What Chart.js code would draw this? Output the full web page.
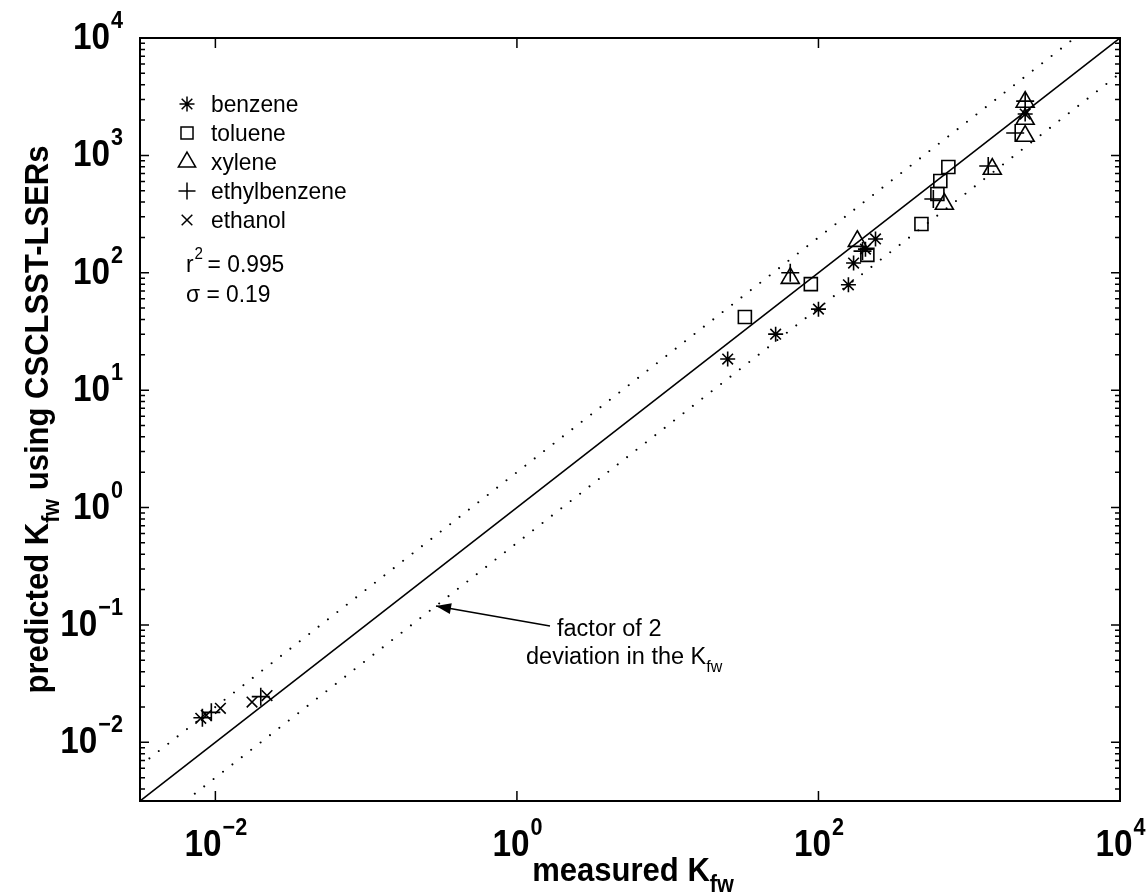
<!DOCTYPE html>
<html>
<head>
<meta charset="utf-8">
<script src="https://cdn.jsdelivr.net/npm/chart.js@4.4.0/dist/chart.umd.min.js"></script>
<style>
html, body { margin: 0; padding: 0; background: #fff; }
</style>
</head>
<body>
<canvas id="myChart" width="1147" height="896"></canvas>
<script>
// values (measured Kfw, predicted Kfw)
const benzeneX = [25, 52, 100, 158, 171, 205, 239, 2350];
const benzeneY = [18.4, 30, 49, 79, 121, 159, 194, 2250];
const tolueneX = [32.5, 89, 211, 482, 615, 643, 727];
const tolueneY = [42, 80, 142, 260, 469, 605, 796];
const xyleneX = [65, 181, 684, 1422, 2350, 2350, 2350];
const xyleneY = [90, 186, 385, 765, 2850, 2040, 1460];
const ethylbenzeneX = [65, 196, 578, 1337, 2018, 2350, 0.0082, 0.0094, 0.020];
const ethylbenzeneY = [100, 153, 425, 812, 1552, 2900, 0.0162, 0.018, 0.0245];
const ethanolX = [0.0080, 0.0087, 0.0108, 0.0175, 0.022];
const ethanolY = [0.016, 0.017, 0.0195, 0.022, 0.025];

const xTickExp = [-2, 0, 2, 4];
const yTickExp = [-2, -1, 0, 1, 2, 3, 4];
const axisMin = Math.pow(10, -2.5);
const axisMax = 1e4;

const legendNames = ['benzene', 'toluene', 'xylene', 'ethylbenzene', 'ethanol'];
const legendStyles = ['star', 'rect', 'triangle', 'cross', 'crossRot'];
const legendRadius = [7.5, 8.5, 10, 8.5, 7.5];

const toPoints = (xs, ys) => xs.map((x, i) => ({x: x, y: ys[i]}));

const markerSet = function(data, style, r) {
    return {
        data: data,
        pointStyle: style,
        pointRadius: r,
        pointHoverRadius: r,
        pointBorderColor: '#000',
        pointBackgroundColor: 'rgba(0,0,0,0)',
        pointBorderWidth: 1.6,
        showLine: false
    };
};

const lineSet = function(data, dash) {
    return {
        data: data,
        showLine: true,
        pointRadius: 0,
        borderColor: '#000',
        borderWidth: dash ? 2 : 1.6,
        borderDash: dash || [],
        borderCapStyle: dash ? 'round' : 'butt',
        fill: false
    };
};

// same shapes as Chart.js point styles, for the legend
const drawMarker = function(ctx, style, x, y, r) {
    ctx.beginPath();
    if (style === 'rect') {
        const s = Math.SQRT1_2 * r;
        ctx.rect(x - s, y - s, 2 * s, 2 * s);
    } else if (style === 'triangle') {
        for (let k = 0; k < 3; k++) {
            const a = k * 2 * Math.PI / 3;
            const px = x + Math.sin(a) * r, py = y - Math.cos(a) * r;
            if (k === 0) ctx.moveTo(px, py); else ctx.lineTo(px, py);
        }
        ctx.closePath();
    } else {
        let angles = [];
        if (style === 'cross') angles = [0, Math.PI / 2];
        if (style === 'crossRot') angles = [Math.PI / 4, 3 * Math.PI / 4];
        if (style === 'star') angles = [0, Math.PI / 4, Math.PI / 2, 3 * Math.PI / 4];
        angles.forEach(a => {
            ctx.moveTo(x - Math.cos(a) * r, y - Math.sin(a) * r);
            ctx.lineTo(x + Math.cos(a) * r, y + Math.sin(a) * r);
        });
    }
    ctx.stroke();
};

// text with an optional horizontal squeeze
const drawText = function(ctx, str, x, y, font, sx) {
    ctx.save();
    ctx.font = font;
    ctx.translate(x, y);
    ctx.scale(sx, 1);
    ctx.fillText(str, 0, 0);
    ctx.restore();
};
const textWidth = function(ctx, str, font, sx) {
    ctx.save();
    ctx.font = font;
    const w = ctx.measureText(str).width * sx;
    ctx.restore();
    return w;
};

const FAM = "'Liberation Sans', Arial, Helvetica, sans-serif";
const baseFont = 'bold 37px ' + FAM;
const expFont = 'bold 24px ' + FAM;
const SX = 0.9;

const decoration = {
    id: 'decoration',
    afterDraw(chart) {
        const ctx = chart.ctx;
        const area = chart.chartArea;
        const xs = chart.scales.x, ys = chart.scales.y;
        ctx.save();
        ctx.strokeStyle = '#000';
        ctx.fillStyle = '#000';
        ctx.textAlign = 'left';
        ctx.textBaseline = 'alphabetic';

        // frame
        ctx.lineWidth = 2;
        ctx.strokeRect(area.left, area.top, area.right - area.left, area.bottom - area.top);

        // x ticks (every two decades, no minor ticks)
        ctx.lineWidth = 1.5;
        ctx.beginPath();
        xTickExp.forEach(e => {
            const px = xs.getPixelForValue(Math.pow(10, e));
            ctx.moveTo(px, area.bottom); ctx.lineTo(px, area.bottom - 10);
            ctx.moveTo(px, area.top); ctx.lineTo(px, area.top + 10);
        });
        // y ticks, major and minor
        for (let e = -3; e <= 4; e++) {
            for (let m = 1; m <= 9; m++) {
                const v = m * Math.pow(10, e);
                if (v < axisMin || v > axisMax) continue;
                const py = ys.getPixelForValue(v);
                const len = m === 1 ? 9 : 5;
                ctx.moveTo(area.left, py); ctx.lineTo(area.left + len, py);
                ctx.moveTo(area.right, py); ctx.lineTo(area.right - len, py);
            }
        }
        ctx.stroke();

        // tick labels
        xTickExp.forEach(e => {
            const px = xs.getPixelForValue(Math.pow(10, e));
            const ex = String(e).replace('-', '\u2212');
            const w1 = textWidth(ctx, '10', baseFont, SX);
            const w2 = textWidth(ctx, ex, expFont, SX);
            const x0 = px - (w1 + w2) / 2;
            drawText(ctx, '10', x0, area.bottom + 55, baseFont, SX);
            drawText(ctx, ex, x0 + w1 + 1, area.bottom + 34, expFont, SX);
        });
        yTickExp.forEach(e => {
            const py = ys.getPixelForValue(Math.pow(10, e));
            const ex = String(e).replace('-', '\u2212');
            const w1 = textWidth(ctx, '10', baseFont, SX);
            const w2 = textWidth(ctx, ex, expFont, SX);
            const x0 = area.left - 18 - w1 - w2;
            drawText(ctx, '10', x0, py + 11, baseFont, SX);
            drawText(ctx, ex, x0 + w1 + 1, py - 10, expFont, SX);
        });

        // axis titles
        const titleFont = 'bold 33px ' + FAM;
        const subFont = 'bold 23px ' + FAM;
        const TSX = 0.94;
        const tw1 = textWidth(ctx, 'measured K', titleFont, TSX);
        const tw2 = textWidth(ctx, 'fw', subFont, TSX);
        const tx0 = (area.left + area.right) / 2 + 3 - (tw1 + tw2) / 2;
        drawText(ctx, 'measured K', tx0, 881, titleFont, TSX);
        drawText(ctx, 'fw', tx0 + tw1, 892, subFont, TSX);

        ctx.save();
        ctx.translate(48, (area.top + area.bottom) / 2);
        ctx.rotate(-Math.PI / 2);
        const p1 = 'predicted K', p2 = 'fw', p3 = ' using CSCLSST-LSERs';
        const w1 = textWidth(ctx, p1, titleFont, TSX);
        const w2 = textWidth(ctx, p2, subFont, TSX);
        const w3 = textWidth(ctx, p3, titleFont, TSX);
        let cx = -(w1 + w2 + w3) / 2;
        drawText(ctx, p1, cx, 0, titleFont, TSX);
        drawText(ctx, p2, cx + w1, 11, subFont, TSX);
        drawText(ctx, p3, cx + w1 + w2, 0, titleFont, TSX);
        ctx.restore();

        // legend
        const legFont = '24px ' + FAM;
        ctx.lineWidth = 1.5;
        legendNames.forEach((name, i) => {
            const y = 104 + i * 29;
            drawMarker(ctx, legendStyles[i], 187, y, legendRadius[i]);
            drawText(ctx, name, 211, y + 8, legFont, 0.95);
        });

        // fit statistics
        const rw = textWidth(ctx, 'r', legFont, 0.95);
        drawText(ctx, 'r', 186, 272, legFont, 0.95);
        drawText(ctx, '2', 186 + rw + 1, 259, '16px ' + FAM, 0.95);
        drawText(ctx, '= 0.995', 186 + rw + 14, 272, legFont, 0.95);
        drawText(ctx, '\u03c3 = 0.19', 186, 302, legFont, 0.95);

        // annotation with arrow
        const annFont = '23.5px ' + FAM;
        drawText(ctx, 'factor of 2', 557, 636, annFont, 1);
        drawText(ctx, 'deviation in the K', 526, 664, annFont, 1);
        const dw = textWidth(ctx, 'deviation in the K', annFont, 1);
        drawText(ctx, 'fw', 526 + dw, 672, '16px ' + FAM, 1);
        const tipX = 436, tipY = 606, tailX = 550, tailY = 626;
        ctx.lineWidth = 1.5;
        ctx.beginPath();
        ctx.moveTo(tailX, tailY); ctx.lineTo(tipX, tipY);
        ctx.stroke();
        const ang = Math.atan2(tipY - tailY, tipX - tailX);
        ctx.beginPath();
        ctx.moveTo(tipX, tipY);
        ctx.lineTo(tipX - 16 * Math.cos(ang - 0.35), tipY - 16 * Math.sin(ang - 0.35));
        ctx.lineTo(tipX - 16 * Math.cos(ang + 0.35), tipY - 16 * Math.sin(ang + 0.35));
        ctx.closePath();
        ctx.fill();

        ctx.restore();
    }
};

const ctx = document.getElementById('myChart').getContext('2d');
const myChart = new Chart(ctx, {
    type: 'scatter',
    data: {
        datasets: [
            markerSet(toPoints(benzeneX, benzeneY), 'star', 7.5),
            markerSet(toPoints(tolueneX, tolueneY), 'rect', 9.2),
            markerSet(toPoints(xyleneX, xyleneY), 'triangle', 10.4),
            markerSet(toPoints(ethylbenzeneX, ethylbenzeneY), 'cross', 9),
            markerSet(toPoints(ethanolX, ethanolY), 'crossRot', 7.5),
            lineSet([{x: axisMin, y: axisMin}, {x: axisMax, y: axisMax}]),
            lineSet([{x: axisMin, y: 2 * axisMin}, {x: axisMax / 2, y: axisMax}], [0.01, 11.9]),
            lineSet([{x: 2 * axisMin, y: axisMin}, {x: axisMax, y: axisMax / 2}], [0.01, 11.9])
        ]
    },
    options: {
        responsive: false,
        animation: false,
        devicePixelRatio: 1,
        layout: {padding: {left: 140, top: 38, right: 27, bottom: 95}},
        plugins: {legend: {display: false}, tooltip: {enabled: false}},
        scales: {
            x: {type: 'logarithmic', min: axisMin, max: axisMax, display: false},
            y: {type: 'logarithmic', min: axisMin, max: axisMax, display: false}
        }
    },
    plugins: [decoration]
});
</script>
</body>
</html>
